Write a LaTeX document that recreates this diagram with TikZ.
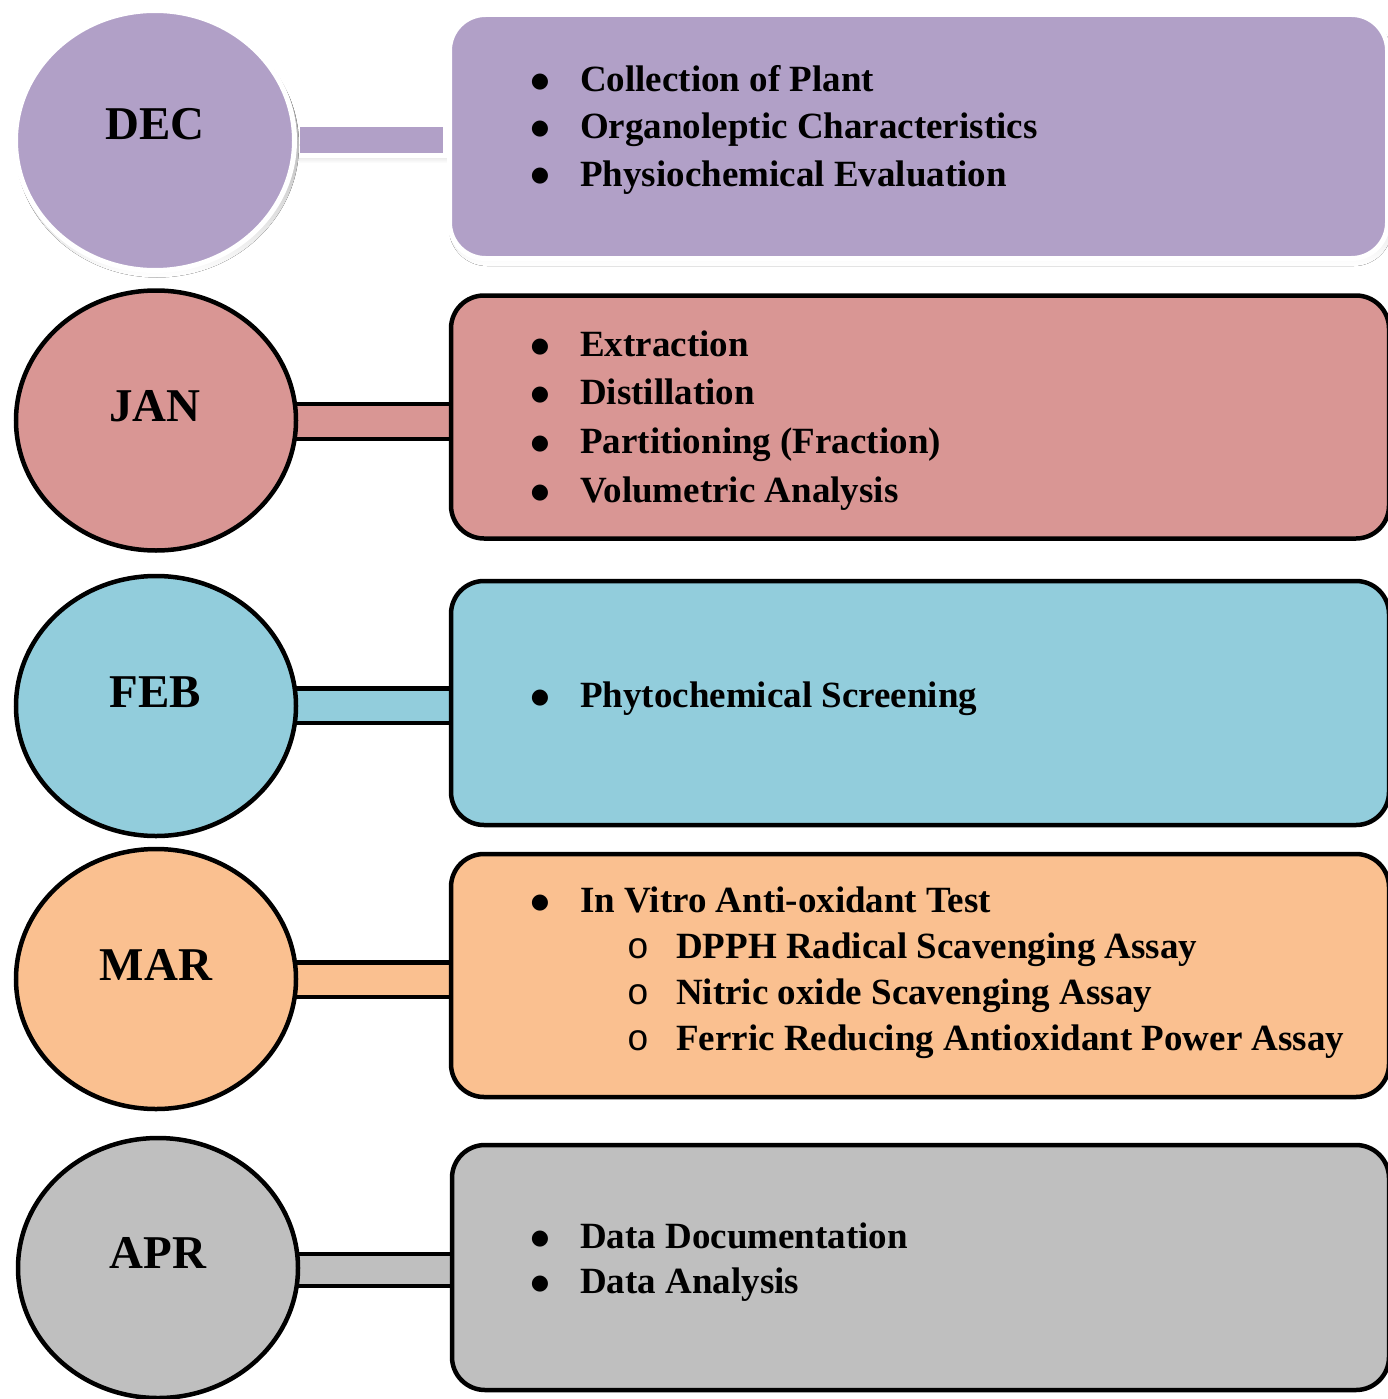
\documentclass[tikz,border=0pt]{standalone}
\usepackage{fontspec}
\setmainfont{Liberation Serif}
\newfontfamily\monofam{Liberation Mono}
\newfontfamily\symfam{DejaVu Sans}
\usetikzlibrary{shapes.geometric,calc}
\definecolor{cdec}{HTML}{B1A0C7}
\definecolor{cjan}{HTML}{D99694}
\definecolor{cfeb}{HTML}{92CDDC}
\definecolor{cmar}{HTML}{FAC090}
\definecolor{capr}{HTML}{BFBFBF}
\definecolor{shade}{HTML}{A6A6A6}
\begin{document}
\begin{tikzpicture}[x=1pt,y=-1pt,
  month/.style={ellipse, draw=black, line width=4.5pt, minimum width=280pt, minimum height=260pt, inner sep=0pt, outer sep=0pt},
  monthlbl/.style={anchor=base, inner sep=0pt, font=\fontsize{47}{50}\selectfont\bfseries},
  box/.style={rectangle, rounded corners=33pt, draw=black, line width=4.5pt, anchor=north west, inner sep=0pt, outer sep=0pt},
  bar/.style={draw=black, line width=4.5pt},
  bul/.style={anchor=base, inner sep=0pt, yshift=4pt, font=\symfam\fontsize{21}{24}\selectfont},
  subbul/.style={anchor=base, inner sep=0pt, font=\monofam\fontsize{37}{40}\selectfont},
  txt/.style={anchor=base west, inner sep=0pt, font=\fontsize{37}{40}\selectfont\bfseries},
  whiteedge/.style={draw=white, line width=5pt}
]
\useasboundingbox (0,0) rectangle (1387,1399);

% ---------------- DEC (white edged, shadowed) ----------------
\fill[shade] (299,127) rectangle (450,163);
\fill[cdec, whiteedge] (297.5,124.5) rectangle (445.5,155.5);
\fill[shade] (157,145) ellipse [x radius=142, y radius=132.5];
\node[ellipse, fill=cdec, whiteedge, minimum width=279pt, minimum height=260pt, inner sep=0pt, outer sep=0pt] (dec) at (155,140.5) {};
\fill[shade, rounded corners=38pt] (449,17) rectangle (1392,266);
\node[box, fill=cdec, whiteedge, rounded corners=36pt, minimum width=938pt, minimum height=244pt] (decbox) at (449.5,14.5) {};
\node[monthlbl] (decl) at (155,140) {DEC};
\node[bul] (decb1) at (540,92) {●};
\node[txt] (dect1) at (580,92) {Collection of Plant};
\node[bul] (decb2) at (540,139) {●};
\node[txt] (dect2) at (580,139) {Organoleptic Characteristics};
\node[bul] (decb3) at (540,186) {●};
\node[txt] (dect3) at (580,186) {Physiochemical Evaluation};

% ---------------- JAN ----------------
\draw[bar, fill=cjan] (280,404) rectangle (460,439);
\node[month, fill=cjan] (jan) at (156,420.5) {};
\node[box, fill=cjan, minimum width=938pt, minimum height=243pt] (janbox) at (451,295.5) {};
\node[monthlbl] (janl) at (155,421) {JAN};
\node[bul] (janb1) at (540,356) {●};
\node[txt] (jant1) at (580,356) {Extraction};
\node[bul] (janb2) at (540,404) {●};
\node[txt] (jant2) at (580,404) {Distillation};
\node[bul] (janb3) at (540,453) {●};
\node[txt] (jant3) at (580,453) {Partitioning (Fraction)};
\node[bul] (janb4) at (540,502) {●};
\node[txt] (jant4) at (580,502) {Volumetric Analysis};

% ---------------- FEB ----------------
\draw[bar, fill=cfeb] (280,688.5) rectangle (460,723);
\node[month, fill=cfeb] (feb) at (156,706) {};
\node[box, fill=cfeb, minimum width=938pt, minimum height=244pt] (febbox) at (451,581) {};
\node[monthlbl] (febl) at (155,707) {FEB};
\node[bul] (febb1) at (540,707) {●};
\node[txt] (febt1) at (580,707) {Phytochemical Screening};

% ---------------- MAR ----------------
\draw[bar, fill=cmar] (280,962.5) rectangle (460,997);
\node[month, fill=cmar] (mar) at (156,979) {};
\node[box, fill=cmar, minimum width=938pt, minimum height=243pt] (marbox) at (451,854) {};
\node[monthlbl] (marl) at (156,980) {MAR};
\node[bul] (marb1) at (540,912) {●};
\node[txt] (mart1) at (580,912) {In Vitro Anti-oxidant Test};
\node[subbul] (mars2) at (638,958) {o};
\node[txt] (mart2) at (676,958) {DPPH Radical Scavenging Assay};
\node[subbul] (mars3) at (638,1004) {o};
\node[txt] (mart3) at (676,1004) {Nitric oxide Scavenging Assay};
\node[subbul] (mars4) at (638,1050) {o};
\node[txt] (mart4) at (676,1050) {Ferric Reducing Antioxidant Power Assay};

% ---------------- APR ----------------
\draw[bar, fill=capr] (280,1254) rectangle (460,1286);
\node[month, fill=capr] (apr) at (158,1268) {};
\node[box, fill=capr, minimum width=937pt, minimum height=245pt] (aprbox) at (452,1145) {};
\node[monthlbl] (aprl) at (158,1268) {APR};
\node[bul] (aprb1) at (540,1248) {●};
\node[txt] (aprt1) at (580,1248) {Data Documentation};
\node[bul] (aprb2) at (540,1293) {●};
\node[txt] (aprt2) at (580,1293) {Data Analysis};
\end{tikzpicture}
\end{document}
